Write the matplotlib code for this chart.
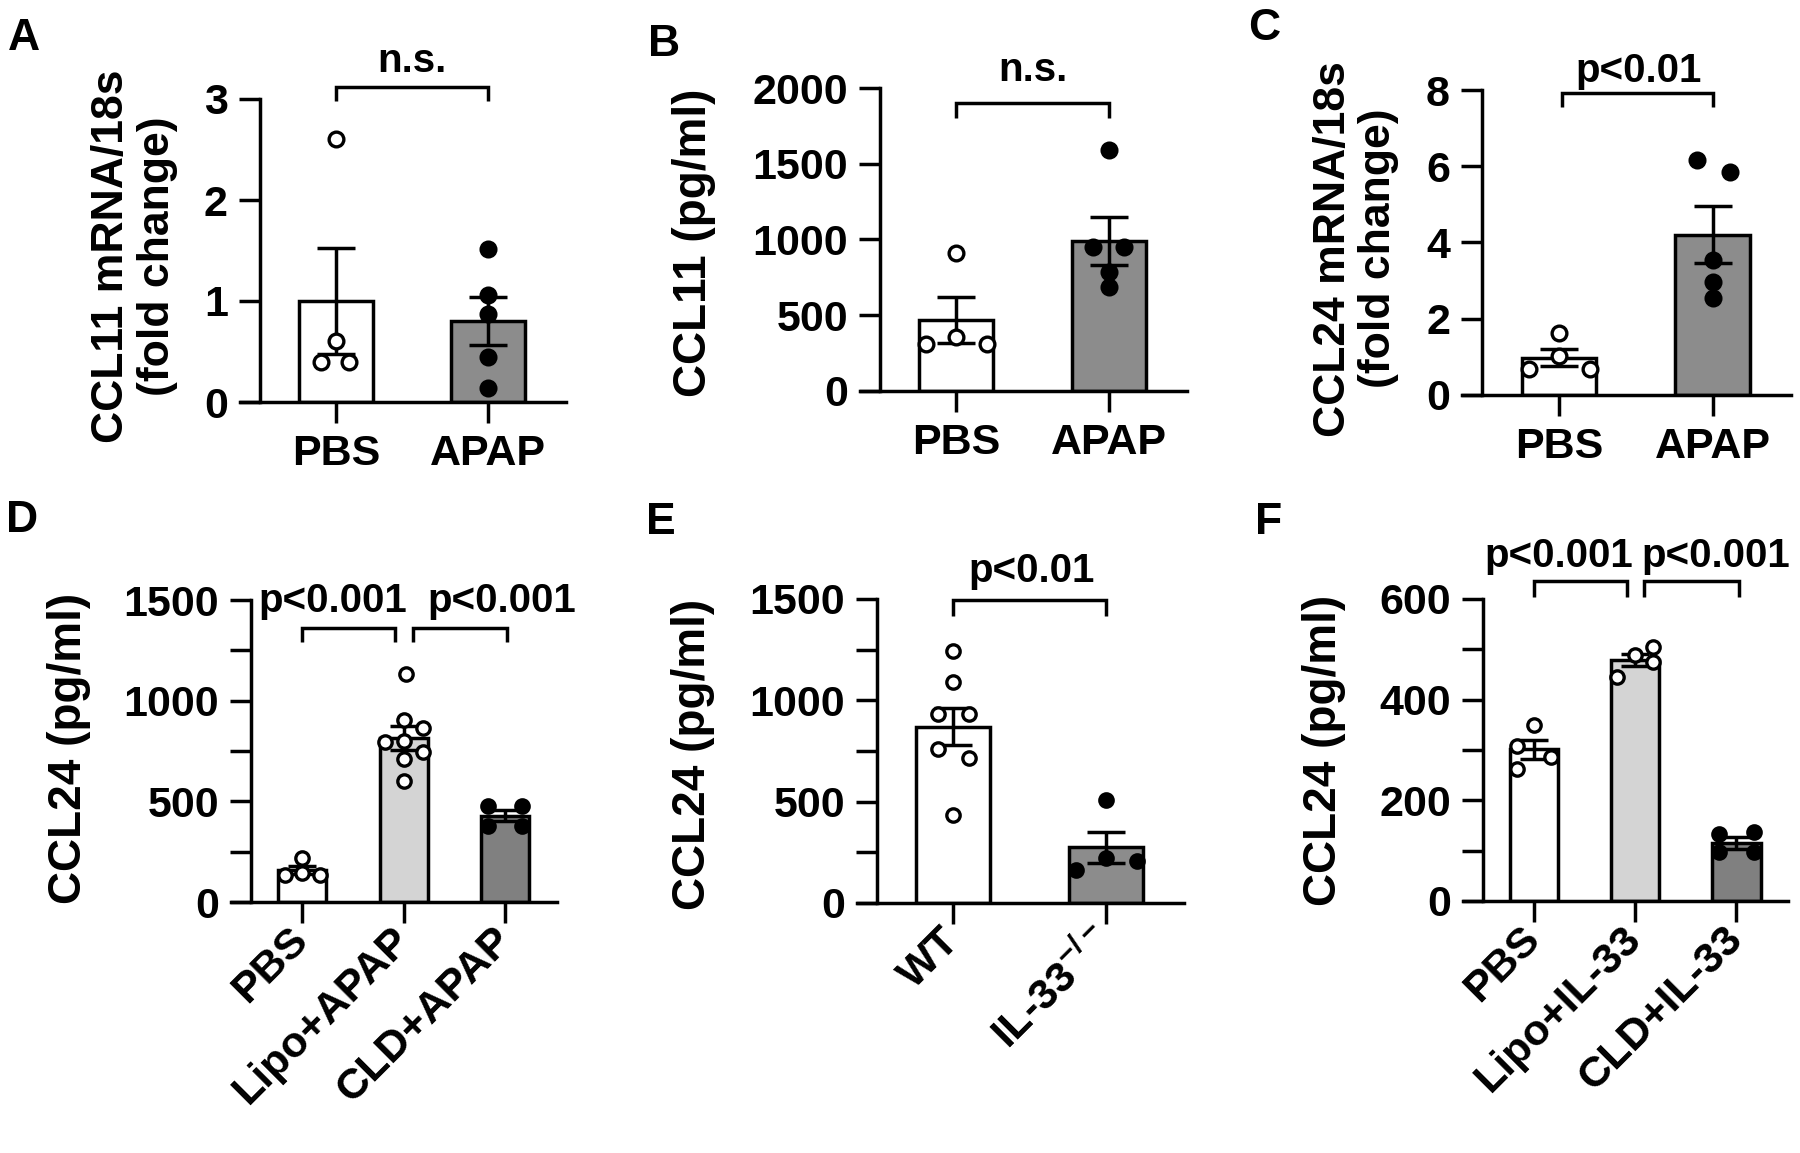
import matplotlib
matplotlib.use('Agg')
import matplotlib.pyplot as plt
import numpy as np

plt.rcParams['font.family'] = ['Liberation Sans', 'DejaVu Sans']
plt.rcParams['font.weight'] = 'bold'
plt.rcParams['axes.labelweight'] = 'bold'
plt.rcParams['mathtext.fontset'] = 'custom'
plt.rcParams['mathtext.rm'] = 'Liberation Sans:bold'
plt.rcParams['mathtext.it'] = 'Liberation Sans:bold'
plt.rcParams['mathtext.bf'] = 'Liberation Sans:bold'

# ---------------- data ----------------
a_groups = ['PBS', 'APAP']
a_means = [1.00, 0.80]
a_sems = [0.52, 0.24]
a_pbs = [2.60, 0.60, 0.40, 0.40]
a_apap = [1.51, 1.06, 0.87, 0.45, 0.14]
a_yticks = [0, 1, 2, 3]

b_groups = ['PBS', 'APAP']
b_means = [470, 990]
b_sems = [150, 160]
b_pbs = [908, 357, 313, 313]
b_apap = [1588, 953, 953, 787, 688]
b_yticks = [0, 500, 1000, 1500, 2000]

c_groups = ['PBS', 'APAP']
c_means = [0.98, 4.20]
c_sems = [0.22, 0.75]
c_pbs = [1.62, 1.02, 0.67, 0.67]
c_apap = [6.16, 5.86, 3.54, 2.97, 2.54]
c_yticks = [0, 2, 4, 6, 8]

d_groups = ['PBS', 'Lipo+APAP', 'CLD+APAP']
d_means = [160, 815, 428]
d_sems = [20, 58, 27]
d_pbs = [217, 145, 134, 134]
d_lipo = [1132, 904, 863, 801, 797, 745, 710, 600]
d_cld = [476, 476, 379, 379]
d_yticks = [0, 500, 1000, 1500]
d_yminor = [250, 750, 1250]

e_groups = ['WT', 'IL-33$^{-/-}$']
e_means = [870, 275]
e_sems = [92, 77]
e_wt = [1243, 1089, 935, 935, 759, 714, 433]
e_il33ko = [509, 221, 205, 164]
e_yticks = [0, 500, 1000, 1500]
e_yminor = [250, 750, 1250]

f_groups = ['PBS', 'Lipo+IL-33', 'CLD+IL-33']
f_means = [301, 478, 116]
f_sems = [19, 12, 12]
f_pbs = [349, 308, 287, 262]
f_lipo = [505, 488, 475, 445]
f_cld = [137, 134, 97, 97]
f_yticks = [0, 200, 400, 600]
f_yminor = [100, 300, 500]

# horizontal jitter of the scatter points (category units)
a_dx = [[0, 0, -0.10, 0.085], [0, 0, 0, 0, 0]]
b_dx = [[0, 0, -0.20, 0.20], [0, -0.105, 0.095, 0, 0]]
c_dx = [[0, 0, -0.195, 0.20], [-0.10, 0.11, 0, 0, 0]]
d_dx = [[0, 0, -0.17, 0.18], [0.02, 0, 0.19, 0, -0.18, 0.19, 0, 0], [-0.17, 0.17, -0.17, 0.17]]
e_dx = [[0, 0, -0.10, 0.10, -0.10, 0.10, 0], [0, 0, 0.20, -0.20]]
f_dx = [[0, -0.17, 0.17, -0.17], [0.18, 0, 0.18, -0.18], [0.17, -0.17, -0.17, 0.17]]

LW = 2.5
TICK_FS = 31
NOTE_FS = 29
W_PX, H_PX = 1800, 1153
fig = plt.figure(figsize=(18, 11.53), dpi=100)


def rect(x0, x1, ytop, ybot):
    return [x0 / W_PX, 1 - ybot / H_PX, (x1 - x0) / W_PX, (ybot - ytop) / H_PX]


def panel(r, groups, means, sems, pts, dxs, fills, filled, yticks, yminor,
          ylabel, lab_xy, lab_fs, rotate, xlim, barw, capsize, ms):
    ax = fig.add_axes(r)
    x = np.arange(len(groups))
    ax.bar(x, means, width=barw, color=fills, edgecolor='black',
           linewidth=LW, zorder=2)
    ax.errorbar(x, means, yerr=sems, fmt='none', ecolor='black',
                elinewidth=LW, capsize=capsize, capthick=LW, zorder=3)
    for i, (p, dx) in enumerate(zip(pts, dxs)):
        ax.plot(i + np.array(dx), p, 'o', ls='none', ms=ms, mew=2.4,
                mec='black', mfc='black' if filled[i] else 'white',
                zorder=4, clip_on=False)
    ax.set_xlim(*xlim)
    ax.set_ylim(0, yticks[-1])
    for s in ['top', 'right']:
        ax.spines[s].set_visible(False)
    ax.spines['left'].set_position(('data', -0.5))
    ax.spines['left'].set_linewidth(LW)
    ax.spines['bottom'].set_linewidth(LW)
    ax.spines['left'].set_capstyle('projecting')
    ax.set_yticks(yticks)
    if yminor:
        ax.set_yticks(yminor, minor=True)
    ax.set_xticks(x)
    ax.tick_params(axis='y', which='both', length=15, width=LW, pad=8,
                   labelsize=TICK_FS)
    ax.tick_params(axis='x', length=15, width=LW, pad=8, labelsize=TICK_FS)
    if rotate:
        ax.set_xticklabels(groups, rotation=45, ha='right', va='center',
                           rotation_mode='anchor')
    else:
        ax.set_xticklabels(groups)
    ax.set_ylabel(ylabel, fontsize=lab_fs, fontweight='bold', linespacing=1.15)
    ax.yaxis.set_label_coords(*lab_xy)
    return ax


def bracket(ax, x1, x2, y, leg):
    ax.plot([x1, x1, x2, x2], [leg, y, y, leg], color='black', lw=LW,
            clip_on=False, solid_joinstyle='miter', solid_capstyle='butt')


def note(ax, x, y, s):
    ax.text(x, y, s, ha='center', va='baseline', fontsize=NOTE_FS,
            fontweight='bold', clip_on=False)


TWO = (-0.63, 1.51)
THREE = (-0.70, 2.51)
GRAY = '#8c8c8c'
LIGHT = '#d4d4d4'
DARK = '#808080'

axA = panel(rect(240, 566, 99, 402), a_groups, a_means, a_sems, [a_pbs, a_apap],
            a_dx, ['white', GRAY], [False, True], a_yticks, None,
            'CCL11 mRNA/18s\n(fold change)', (-0.19, 0.48), 32, False, TWO,
            0.485, 13.5, 10.6)
bracket(axA, 0, 1, 3.12, 2.98)
note(axA, 0.5, 3.27, 'n.s.')

axB = panel(rect(860, 1187, 88, 391), b_groups, b_means, b_sems, [b_pbs, b_apap],
            b_dx, ['white', GRAY], [False, True], b_yticks, None,
            'CCL11 (pg/ml)', (-0.44, 0.49), 33, False, TWO,
            0.485, 13.5, 10.6)
bracket(axB, 0, 1, 1901, 1802)
note(axB, 0.5, 2044, 'n.s.')

axC = panel(rect(1462, 1791, 90, 395), c_groups, c_means, c_sems, [c_pbs, c_apap],
            c_dx, ['white', GRAY], [False, True], c_yticks, None,
            'CCL24 mRNA/18s\n(fold change)', (-0.19, 0.48), 32, False, TWO,
            0.485, 13.5, 10.6)
bracket(axC, 0.02, 1, 7.91, 7.55)
note(axC, 0.52, 8.22, 'p<0.01')

axD = panel(rect(231, 557, 600, 902), d_groups, d_means, d_sems,
            [d_pbs, d_lipo, d_cld], d_dx, ['white', LIGHT, DARK],
            [False, False, True], d_yticks, d_yminor,
            'CCL24 (pg/ml)', (-0.43, 0.51), 33, True, THREE,
            0.475, 10, 9.6)
bracket(axD, 0, 0.91, 1359, 1289)
bracket(axD, 1.09, 2.02, 1359, 1289)
note(axD, 0.30, 1438, 'p<0.001')
note(axD, 1.97, 1438, 'p<0.001')

axE = panel(rect(857, 1184, 599, 903), e_groups, e_means, e_sems,
            [e_wt, e_il33ko], e_dx, ['white', GRAY], [False, True],
            e_yticks, e_yminor, 'CCL24 (pg/ml)', (-0.435, 0.49), 33, True, TWO,
            0.485, 13.5, 9.6)
bracket(axE, 0, 1, 1494, 1416)
note(axE, 0.51, 1586, 'p<0.01')

axF = panel(rect(1463, 1788, 599, 901), f_groups, f_means, f_sems,
            [f_pbs, f_lipo, f_cld], f_dx, ['white', LIGHT, DARK],
            [False, False, True], f_yticks, f_yminor,
            'CCL24 (pg/ml)', (-0.36, 0.50), 33, True, THREE,
            0.477, 10, 9.6)
bracket(axF, 0, 0.92, 635, 604)
bracket(axF, 1.09, 2.03, 635, 604)
note(axF, 0.25, 664, 'p<0.001')
note(axF, 1.80, 664, 'p<0.001')

for letter, px, py in [('A', 8, 18), ('B', 648, 24), ('C', 1248, 8),
                       ('D', 6, 500), ('E', 646, 502), ('F', 1255, 502)]:
    fig.text(px / W_PX, 1 - py / H_PX, letter, fontsize=32, fontweight='bold',
             ha='left', va='top')

fig.savefig('out.png', dpi=100, facecolor='white')
